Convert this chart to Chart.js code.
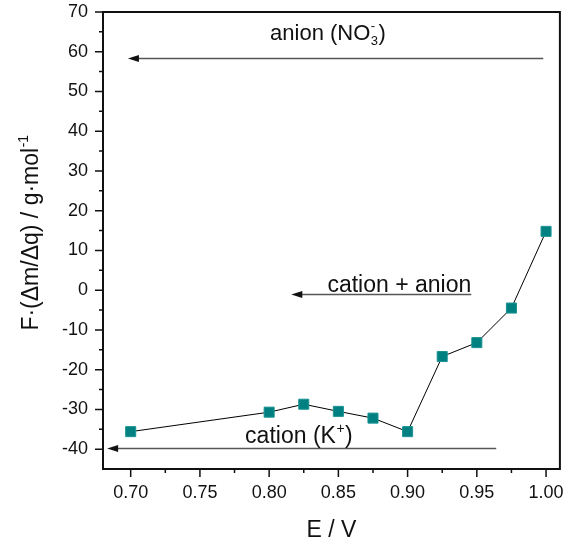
<!DOCTYPE html>
<html>
<head>
<meta charset="utf-8">
<script src="https://cdn.jsdelivr.net/npm/chart.js@4.4.1/dist/chart.umd.min.js"></script>
<style>
  body { margin: 0; background: #fff; }
  #wrap { width: 568px; height: 544px; }
</style>
</head>
<body>
<div id="wrap"><canvas id="eqcm" width="568" height="544"></canvas></div>
<script>
// electrode potential (V) vs F·(Δm/Δq) (g/mol)
const potentials = [0.700, 0.800, 0.825, 0.850, 0.875, 0.900, 0.925, 0.950, 0.975, 1.000];
const massPerCharge = [-35.6, -30.7, -28.7, -30.5, -32.2, -35.6, -16.7, -13.2, -4.5, 14.8];

const xTicks = [0.70, 0.75, 0.80, 0.85, 0.90, 0.95, 1.00];
const xMinorTicks = [0.725, 0.775, 0.825, 0.875, 0.925, 0.975];
const yTicks = [-40, -30, -20, -10, 0, 10, 20, 30, 40, 50, 60, 70];
const yMinorTicks = [-35, -25, -15, -5, 5, 15, 25, 35, 45, 55, 65];

// arrows run from start (right) to end (left, arrow head) at a given level
const arrowLevel = [58.5, -1.0, -39.6];
const arrowStart = [0.998, 0.946, 0.964];
const arrowEnd = [0.698, 0.816, 0.683];
// label pieces: plain string, or [superscript, subscript]
const arrowLabels = [
  ['anion (NO', ['-', '3'], ')'],
  ['cation + anion'],
  ['cation (K', ['+', ''], ')']
];

const xTitle = ['E / V'];
const yTitle = ['F\u00b7(\u0394m/\u0394q) / g\u00b7mol', ['-1', '']];

const FONT = '"Liberation Sans", Arial, sans-serif';
const INK = '#111';

function partsWidth(ctx, parts, size) {
  let w = 0;
  parts.forEach(p => {
    if (typeof p === 'string') {
      ctx.font = size + 'px ' + FONT;
      w += ctx.measureText(p).width;
    } else {
      ctx.font = Math.round(size * 0.6) + 'px ' + FONT;
      w += Math.max(ctx.measureText(p[0]).width, ctx.measureText(p[1]).width) + 1;
    }
  });
  return w;
}

function drawParts(ctx, parts, x, y, size) {
  ctx.textAlign = 'left';
  ctx.textBaseline = 'alphabetic';
  parts.forEach(p => {
    if (typeof p === 'string') {
      ctx.font = size + 'px ' + FONT;
      ctx.fillText(p, x, y);
      x += ctx.measureText(p).width;
    } else {
      ctx.font = Math.round(size * 0.6) + 'px ' + FONT;
      ctx.fillText(p[0], x + 0.5, y - size * 0.42);
      ctx.fillText(p[1], x + 0.5, y + size * 0.22);
      x += Math.max(ctx.measureText(p[0]).width, ctx.measureText(p[1]).width) + 1;
    }
  });
}

// label placement relative to each arrow
const labelPlace = [
  { align: 'center', at: 0.8425, dy: -18, size: 22 },
  { align: 'right', at: 0.946, dy: -2, size: 23 },
  { align: 'center', at: 0.8215, dy: -5, size: 23 }
];

const framePlugin = {
  id: 'frame',
  beforeDatasetsDraw(chart) {
    const { ctx, scales: { x, y } } = chart;
    ctx.save();
    arrowLevel.forEach((lv, i) => {
      const py = Math.round(y.getPixelForValue(lv)) + 0.5;
      const x0 = x.getPixelForValue(arrowStart[i]);
      const x1 = x.getPixelForValue(arrowEnd[i]);
      ctx.strokeStyle = '#555';
      ctx.lineWidth = 1.5;
      ctx.beginPath();
      ctx.moveTo(x0, py);
      ctx.lineTo(x1 + 8, py);
      ctx.stroke();
      ctx.fillStyle = INK;
      ctx.beginPath();
      ctx.moveTo(x1, py);
      ctx.lineTo(x1 + 11, py - 3.5);
      ctx.lineTo(x1 + 11, py + 3.5);
      ctx.closePath();
      ctx.fill();
    });
    ctx.restore();
  },
  afterDraw(chart) {
    const { ctx, chartArea: a, scales: { x, y } } = chart;
    ctx.save();
    ctx.strokeStyle = INK;
    ctx.lineWidth = 1.5;
    ctx.beginPath();
    yTicks.forEach(v => { const p = y.getPixelForValue(v); ctx.moveTo(a.left - 8, p); ctx.lineTo(a.left, p); });
    yMinorTicks.forEach(v => { const p = y.getPixelForValue(v); ctx.moveTo(a.left - 4, p); ctx.lineTo(a.left, p); });
    xTicks.forEach(v => { const p = x.getPixelForValue(v); ctx.moveTo(p, a.bottom); ctx.lineTo(p, a.bottom + 8); });
    xMinorTicks.forEach(v => { const p = x.getPixelForValue(v); ctx.moveTo(p, a.bottom); ctx.lineTo(p, a.bottom + 4); });
    ctx.stroke();

    ctx.lineWidth = 2;
    ctx.strokeRect(a.left, a.top, a.right - a.left, a.bottom - a.top);

    // arrow labels
    ctx.fillStyle = INK;
    arrowLabels.forEach((parts, i) => {
      const pl = labelPlace[i];
      const w = partsWidth(ctx, parts, pl.size);
      const px = x.getPixelForValue(pl.at);
      const sx = pl.align === 'center' ? px - w / 2 : px - w;
      drawParts(ctx, parts, sx, y.getPixelForValue(arrowLevel[i]) + pl.dy, pl.size);
    });

    // axis titles
    const tw = partsWidth(ctx, xTitle, 23);
    drawParts(ctx, xTitle, (a.left + a.right) / 2 - tw / 2, a.bottom + 68, 23);

    const yw = partsWidth(ctx, yTitle, 23);
    ctx.translate(a.left - 65, (a.top + a.bottom) / 2 - 8);
    ctx.rotate(-Math.PI / 2);
    drawParts(ctx, yTitle, -yw / 2, 0, 23);
    ctx.restore();
  }
};

const tickFont = { family: 'Liberation Sans', size: 18 };

new Chart(document.getElementById('eqcm'), {
  type: 'line',
  data: {
    datasets: [{
      data: potentials.map((v, i) => ({ x: v, y: massPerCharge[i] })),
      borderColor: '#000',
      borderWidth: 1,
      tension: 0,
      pointStyle: 'rect',
      pointRadius: 7.1,
      pointBackgroundColor: '#008080',
      pointBorderColor: '#1a9393',
      pointBorderWidth: 1
    }]
  },
  options: {
    responsive: false,
    animation: false,
    devicePixelRatio: 1,
    layout: { padding: { top: 12, right: 8, left: 0, bottom: 0 } },
    plugins: { legend: { display: false }, tooltip: { enabled: false } },
    scales: {
      x: {
        type: 'linear',
        min: 0.68,
        max: 1.01,
        afterBuildTicks: s => { s.ticks = xTicks.map(v => ({ value: v })); },
        afterFit: s => { s.height = 75; s.paddingLeft = 0; s.paddingRight = 0; },
        grid: { display: false, drawTicks: false },
        border: { display: false },
        ticks: { padding: 13, font: tickFont, color: INK, callback: v => v.toFixed(2) }
      },
      y: {
        type: 'linear',
        min: -45,
        max: 70,
        afterBuildTicks: s => { s.ticks = yTicks.map(v => ({ value: v })); },
        afterFit: s => { s.width = 103; s.paddingTop = 0; s.paddingBottom = 0; },
        grid: { display: false, drawTicks: false },
        border: { display: false },
        ticks: { padding: 15, font: tickFont, color: INK, callback: v => String(v) }
      }
    }
  },
  plugins: [framePlugin]
});
</script>
</body>
</html>
